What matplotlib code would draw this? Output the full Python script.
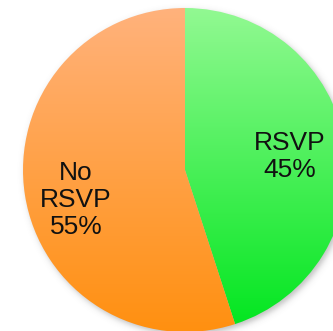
import numpy as np
import matplotlib
matplotlib.use("Agg")
import matplotlib.pyplot as plt
from matplotlib.colors import LinearSegmentedColormap

plt.rcParams['font.family'] = ['Liberation Sans', 'DejaVu Sans']

labels = ["RSVP", "No\nRSVP"]
shares = [45, 55]
tops = ["#92f992", "#ffb27c"]
bottoms = ["#00e61e", "#ff9010"]

W, H = 333, 331
cx, cy, R = 185, 331 - 170, 162

fig = plt.figure(figsize=(W / 100, H / 100), dpi=100)
ax = fig.add_axes([0, 0, 1, 1])

# soft drop shadow underneath the disc
yy, xx = np.mgrid[0:H:0.5, 0:W:0.5]
d = np.hypot(xx - (cx + 2), yy - (cy - 3))
alpha = 0.35 / (1 + np.exp(-(R - d) / 1.8))
shadow = np.zeros(d.shape + (4,))
shadow[..., :3] = 0.3
shadow[..., 3] = alpha
ax.imshow(shadow, extent=(0, W, 0, H), origin="lower", zorder=0,
          interpolation="bilinear")

wedges, _ = ax.pie(shares, startangle=90, counterclock=False,
                   center=(cx, cy), radius=R, frame=True,
                   wedgeprops=dict(facecolor="none", edgecolor="none"))
ax.set_xlim(0, W)
ax.set_ylim(0, H)
ax.set_aspect("equal")
ax.axis("off")

# vertical gradient fill per slice
grad = np.linspace(0, 1, 256).reshape(-1, 1)
for w, top, bot in zip(wedges, tops, bottoms):
    cmap = LinearSegmentedColormap.from_list("g", [bot, top])
    im = ax.imshow(grad, cmap=cmap, extent=(cx - R, cx + R, cy - R, cy + R),
                   origin="lower", aspect="auto", zorder=1)
    im.set_clip_path(w)

# slice labels: radius fraction and angle nudge from the slice middle
dists = [0.653, 0.698]
nudges = [-1.9, 6.4]
for w, lab, val, dist, nudge in zip(wedges, labels, shares, dists, nudges):
    ang = np.radians((w.theta1 + w.theta2) / 2 + nudge)
    x = cx + dist * R * np.cos(ang)
    y = cy + dist * R * np.sin(ang)
    ax.text(x, y, f"{lab}\n{val}%", ha="center", va="center",
            fontsize=19, linespacing=1.15, color="#111111", zorder=3)

fig.savefig("out.png", dpi=100)
